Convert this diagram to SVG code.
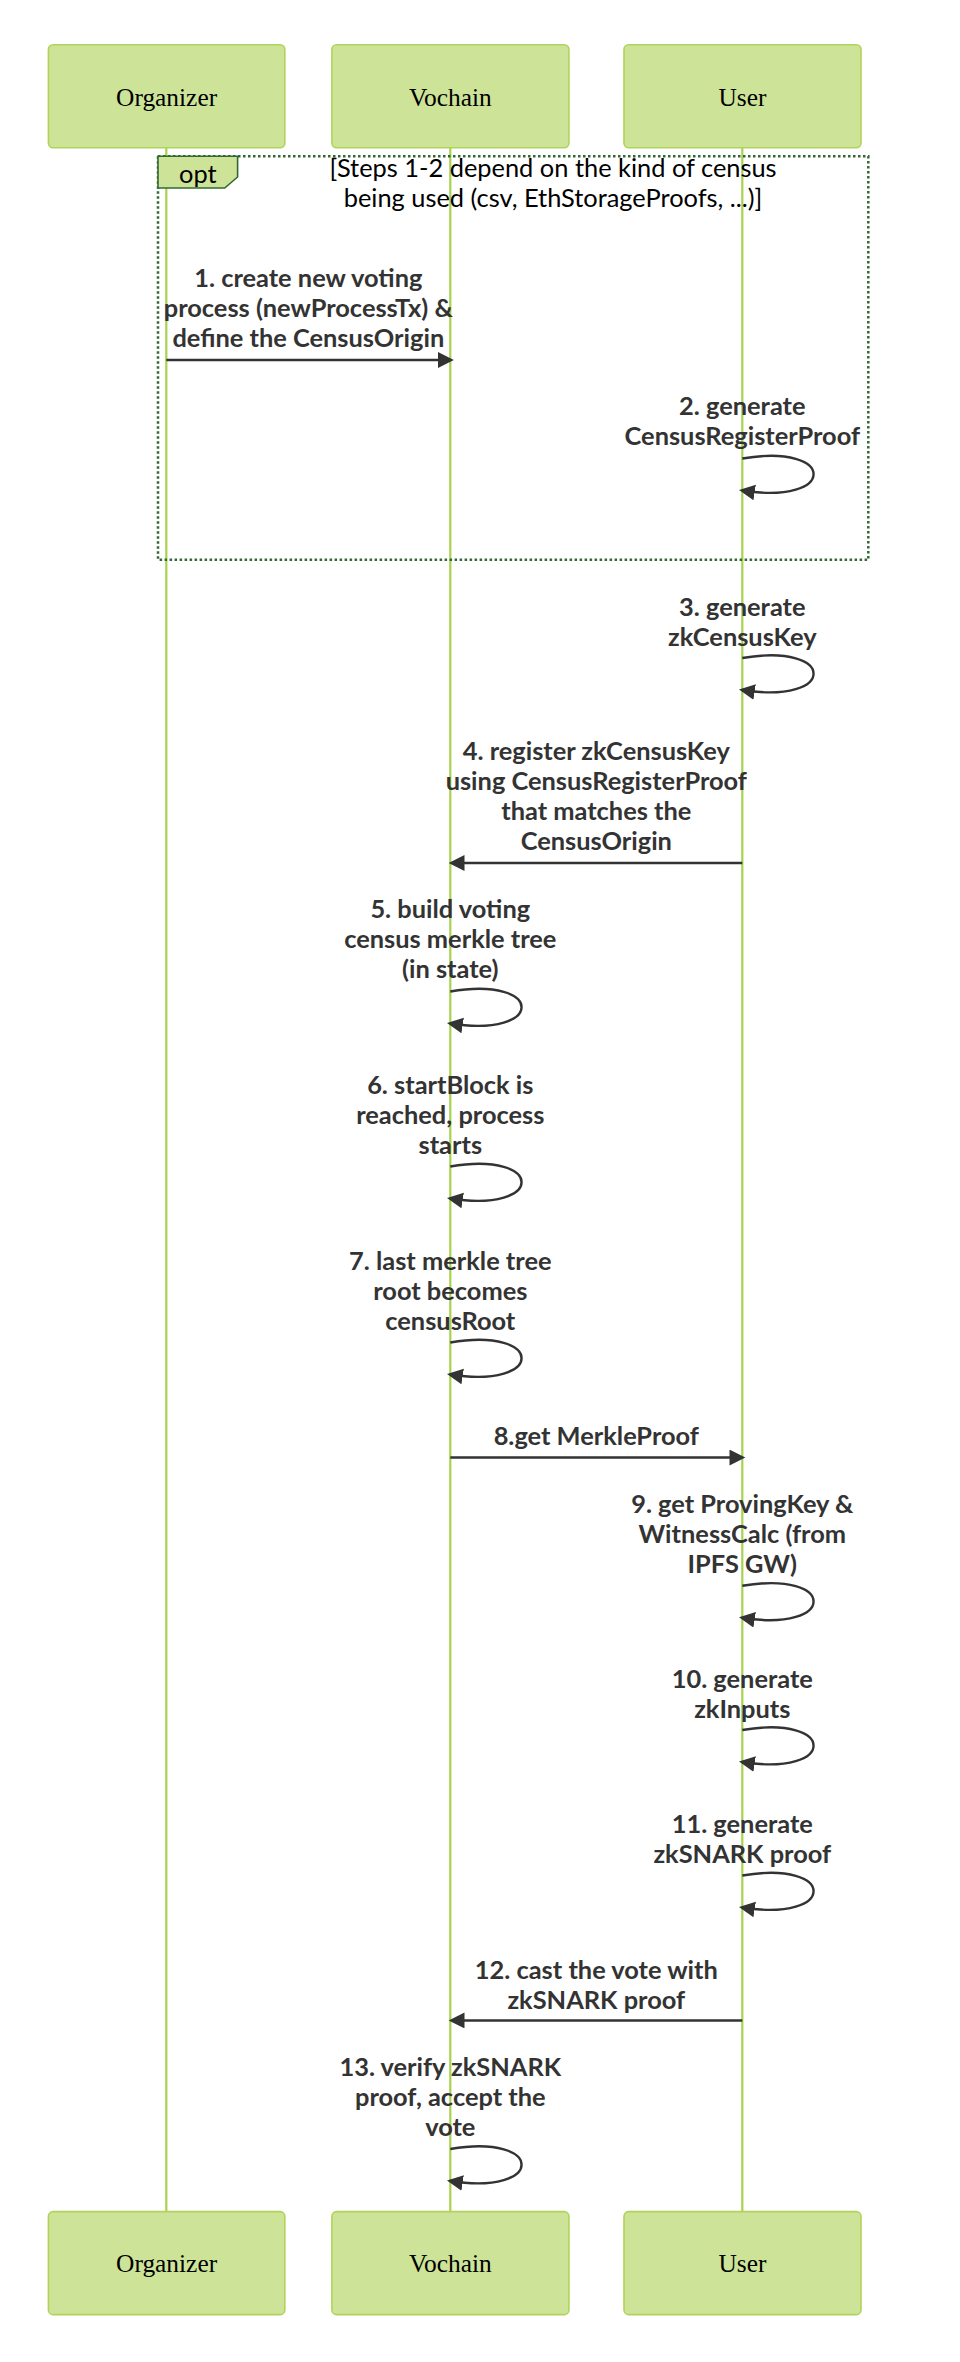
<svg xmlns="http://www.w3.org/2000/svg" width="960" height="2362" viewBox="0 0 960 2362">
<style>
.actor{fill:#cde498;stroke:#b0d45b;stroke-width:1.6}
.actor-text{font-family:"Liberation Serif",serif;font-size:25.4px;fill:#000;text-anchor:middle}
.lifeline{stroke:#a8d24e;stroke-width:2.2}
.msg{stroke:#333;stroke-width:2.4;fill:none}
.msg-text{font-family:Lato,"Liberation Sans",sans-serif;font-weight:700;font-size:25.4px;fill:#333;text-anchor:middle}
.loop-line{stroke:#326932;stroke-width:2.5;stroke-dasharray:2.5 2.5;fill:none}
.label-box{fill:#cde498;stroke:#326932;stroke-width:1.6}
.label-text{font-family:Lato,"Liberation Sans",sans-serif;font-size:25.4px;fill:#000;text-anchor:middle}
</style>
<defs>
<marker id="arrowhead" viewBox="0 0 12 12" refX="7.9" refY="5" markerUnits="userSpaceOnUse" markerWidth="19" markerHeight="19" orient="auto">
<path d="M 0 0 L 10 5 L 0 10 z" fill="#333"/>
</marker>
</defs>
<rect width="960" height="2362" fill="#fff"/>
<g id="lifelines">
<line class="lifeline" x1="166.3" y1="147.6" x2="166.3" y2="2211.6"/>
<line class="lifeline" x1="450.3" y1="147.6" x2="450.3" y2="2211.6"/>
<line class="lifeline" x1="742.3" y1="147.6" x2="742.3" y2="2211.6"/>
</g>
<g id="organizer-top"><rect class="actor" x="48.4" y="44.7" width="236.4" height="103" rx="4.7"/><text class="actor-text" x="166.6" y="105.5">Organizer</text></g>
<g id="vochain-top"><rect class="actor" x="331.9" y="44.7" width="237" height="103" rx="4.7"/><text class="actor-text" x="450.4" y="105.5">Vochain</text></g>
<g id="user-top"><rect class="actor" x="624" y="44.7" width="237" height="103" rx="4.7"/><text class="actor-text" x="742.5" y="105.5">User</text></g>
<g id="organizer-bottom"><rect class="actor" x="48.4" y="2211.6" width="236.4" height="103" rx="4.7"/><text class="actor-text" x="166.6" y="2272">Organizer</text></g>
<g id="vochain-bottom"><rect class="actor" x="331.9" y="2211.6" width="237" height="103" rx="4.7"/><text class="actor-text" x="450.4" y="2272">Vochain</text></g>
<g id="user-bottom"><rect class="actor" x="624" y="2211.6" width="237" height="103" rx="4.7"/><text class="actor-text" x="742.5" y="2272">User</text></g>
<g id="opt-frame">
<rect class="loop-line" x="158" y="156.2" width="710.3" height="403.5"/>
<polygon class="label-box" points="158,156.2 237.6,156.2 237.6,177 224.7,188 158,188"/>
<text class="label-text" x="197.8" y="183">opt</text>
<text class="label-text" x="553" y="176.5">[Steps 1-2 depend on the kind of census</text>
<text class="label-text" x="553" y="206.5">being used (csv, EthStorageProofs, ...)]</text>
</g>
<g id="messages">
<g id="m1"><text class="msg-text" x="308.3" y="287">1. create new voting</text><text class="msg-text" x="308.3" y="317">process (newProcessTx) &amp;</text><text class="msg-text" x="308.3" y="347">define the CensusOrigin</text>
<path class="msg" d="M166.3,360 H450.5" marker-end="url(#arrowhead)"/></g>
<g id="m2"><text class="msg-text" x="742.3" y="415">2. generate</text><text class="msg-text" x="742.3" y="445">CensusRegisterProof</text>
<path class="msg" d="M742.3,458.5 C837.3,442.5 837.3,505.5 742.3,490.5" marker-end="url(#arrowhead)"/></g>
<g id="m3"><text class="msg-text" x="742.3" y="616">3. generate</text><text class="msg-text" x="742.3" y="646">zkCensusKey</text>
<path class="msg" d="M742.3,658 C837.3,642 837.3,705 742.3,690" marker-end="url(#arrowhead)"/></g>
<g id="m4"><text class="msg-text" x="596.3" y="760">4. register zkCensusKey</text><text class="msg-text" x="596.3" y="790">using CensusRegisterProof</text><text class="msg-text" x="596.3" y="820">that matches the</text><text class="msg-text" x="596.3" y="850">CensusOrigin</text>
<path class="msg" d="M742.3,863 H452" marker-end="url(#arrowhead)"/></g>
<g id="m5"><text class="msg-text" x="450.3" y="918">5. build voting</text><text class="msg-text" x="450.3" y="948">census merkle tree</text><text class="msg-text" x="450.3" y="978">(in state)</text>
<path class="msg" d="M450.3,991.5 C545.3,975.5 545.3,1038.5 450.3,1023.5" marker-end="url(#arrowhead)"/></g>
<g id="m6"><text class="msg-text" x="450.3" y="1094">6. startBlock is</text><text class="msg-text" x="450.3" y="1124">reached, process</text><text class="msg-text" x="450.3" y="1154">starts</text>
<path class="msg" d="M450.3,1166.5 C545.3,1150.5 545.3,1213.5 450.3,1198.5" marker-end="url(#arrowhead)"/></g>
<g id="m7"><text class="msg-text" x="450.3" y="1270">7. last merkle tree</text><text class="msg-text" x="450.3" y="1300">root becomes</text><text class="msg-text" x="450.3" y="1330">censusRoot</text>
<path class="msg" d="M450.3,1342.5 C545.3,1326.5 545.3,1389.5 450.3,1374.5" marker-end="url(#arrowhead)"/></g>
<g id="m8"><text class="msg-text" x="596.3" y="1445">8.get MerkleProof</text>
<path class="msg" d="M450.3,1457.5 H742" marker-end="url(#arrowhead)"/></g>
<g id="m9"><text class="msg-text" x="742.3" y="1512.5">9. get ProvingKey &amp;</text><text class="msg-text" x="742.3" y="1542.5">WitnessCalc (from</text><text class="msg-text" x="742.3" y="1572.5">IPFS GW)</text>
<path class="msg" d="M742.3,1585.8 C837.3,1569.8 837.3,1632.8 742.3,1617.8" marker-end="url(#arrowhead)"/></g>
<g id="m10"><text class="msg-text" x="742.3" y="1687.5">10. generate</text><text class="msg-text" x="742.3" y="1717.5">zkInputs</text>
<path class="msg" d="M742.3,1730 C837.3,1714 837.3,1777 742.3,1762" marker-end="url(#arrowhead)"/></g>
<g id="m11"><text class="msg-text" x="742.3" y="1832.5">11. generate</text><text class="msg-text" x="742.3" y="1862.5">zkSNARK proof</text>
<path class="msg" d="M742.3,1875.5 C837.3,1859.5 837.3,1922.5 742.3,1907.5" marker-end="url(#arrowhead)"/></g>
<g id="m12"><text class="msg-text" x="596.3" y="1978.5">12. cast the vote with</text><text class="msg-text" x="596.3" y="2008.5">zkSNARK proof</text>
<path class="msg" d="M742.3,2020.5 H452" marker-end="url(#arrowhead)"/></g>
<g id="m13"><text class="msg-text" x="450.3" y="2076">13. verify zkSNARK</text><text class="msg-text" x="450.3" y="2106">proof, accept the</text><text class="msg-text" x="450.3" y="2136">vote</text>
<path class="msg" d="M450.3,2149 C545.3,2133 545.3,2196 450.3,2181" marker-end="url(#arrowhead)"/></g>
</g>
</svg>
